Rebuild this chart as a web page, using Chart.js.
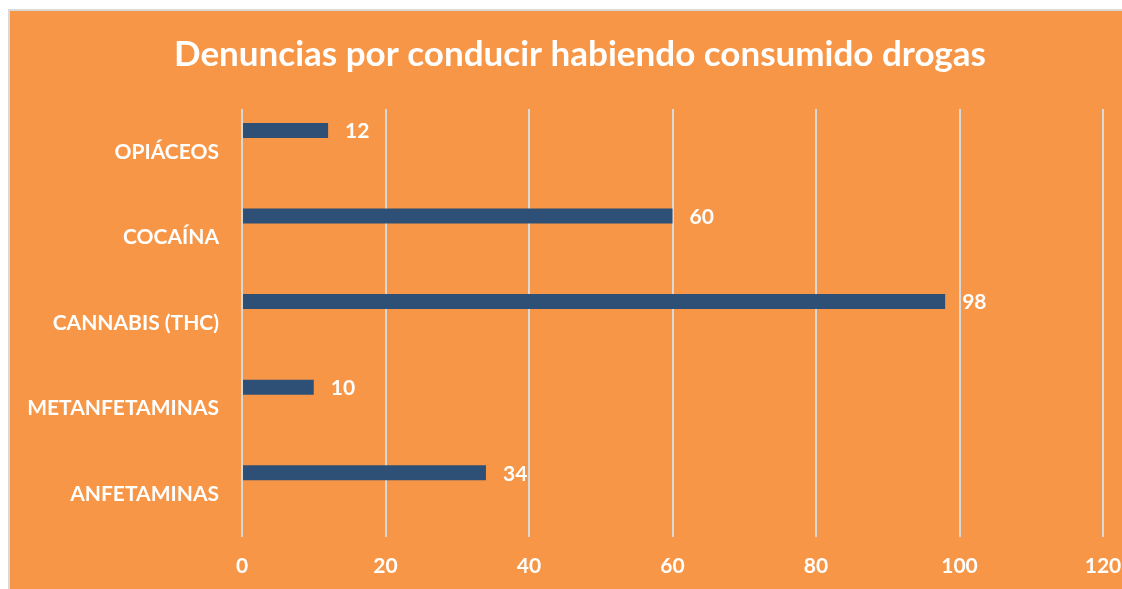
<!DOCTYPE html>
<html>
<head>
<meta charset="utf-8">
<script src="https://cdn.jsdelivr.net/npm/chart.js@4"></script>
<style>
  html, body { margin: 0; padding: 0; background: #ffffff; }
  #frame {
    position: absolute; left: 8px; top: 9px; right: 0; bottom: 0;
    background: #f79646;
    border-left: 2px solid #d9d9d9;
    border-top: 2px solid #d9d9d9;
  }
  #chart { display: block; }
</style>
</head>
<body>
<div id="frame"><canvas id="chart" width="1112" height="578"></canvas></div>
<script>
// chart data
const titleText = "Denuncias por conducir habiendo consumido drogas";
const categories = ["OPIÁCEOS", "COCAÍNA", "CANNABIS (THC)", "METANFETAMINAS", "ANFETAMINAS"];
const denuncias = [12, 60, 98, 10, 34];
const emptySeries = [null, null, null, null, null]; // second (empty) series, keeps bars on top half
const xTicks = [0, 20, 40, 60, 80, 100, 120];

const barColor = "#2e5077";
const fontFamily = "Lato, 'Open Sans', sans-serif";

// title drawn by hand (sits a bit right of centre, like the original)
const chartTitle = {
  id: 'chartTitle',
  afterDraw(chart) {
    const ctx = chart.ctx;
    ctx.save();
    ctx.fillStyle = "#ffffff";
    ctx.font = "bold 35px " + fontFamily;
    ctx.textAlign = "center";
    ctx.textBaseline = "middle";
    ctx.fillText(titleText, 570, 44);
    ctx.restore();
  }
};

// draw the value labels right of each bar
const valueLabels = {
  id: 'valueLabels',
  afterDatasetsDraw(chart) {
    const ctx = chart.ctx;
    const meta = chart.getDatasetMeta(0);
    ctx.save();
    ctx.fillStyle = "#ffffff";
    ctx.font = "bold 21px " + fontFamily;
    ctx.textAlign = "left";
    ctx.textBaseline = "middle";
    meta.data.forEach(function(bar, i) {
      ctx.fillText(String(denuncias[i]), bar.x + 17, bar.y + 1);
    });
    ctx.restore();
  }
};

const ctx = document.getElementById('chart').getContext('2d');
const chart = new Chart(ctx, {
  type: 'bar',
  data: {
    labels: categories,
    datasets: [
      {
        label: "Denuncias",
        data: denuncias,
        backgroundColor: barColor,
        borderWidth: 0,
        categoryPercentage: 1.0,
        barPercentage: 0.35
      },
      {
        label: "",
        data: emptySeries,
        backgroundColor: barColor,
        categoryPercentage: 1.0,
        barPercentage: 0.35
      }
    ]
  },
  options: {
    responsive: false,
    animation: false,
    indexAxis: 'y',
    layout: {
      padding: { left: 0, right: 19, top: 98, bottom: 0 }
    },
    scales: {
      x: {
        min: 0,
        max: 120,
        afterBuildTicks: function(scale) {
          scale.ticks = xTicks.map(v => ({ value: v }));
        },
        afterFit: function(scale) {
          scale.height = 52;
          scale.paddingLeft = 0;
          scale.paddingRight = 0;
        },
        grid: { color: "#d9d9d9", lineWidth: 2, drawTicks: false },
        border: { display: false },
        ticks: {
          color: "#ffffff",
          font: { family: fontFamily, size: 21, weight: 'bold' },
          padding: 17
        }
      },
      y: {
        afterFit: function(scale) {
          scale.width = 232;
          scale.paddingTop = 0;
          scale.paddingBottom = 0;
        },
        grid: { display: false, drawTicks: false },
        border: { display: false },
        ticks: {
          color: "#ffffff",
          font: { family: fontFamily, size: 21, weight: 'bold' },
          padding: 23
        }
      }
    },
    plugins: {
      legend: { display: false },
      tooltip: { enabled: false },
      title: { display: false }
    }
  },
  plugins: [valueLabels, chartTitle]
});
</script>
</body>
</html>
